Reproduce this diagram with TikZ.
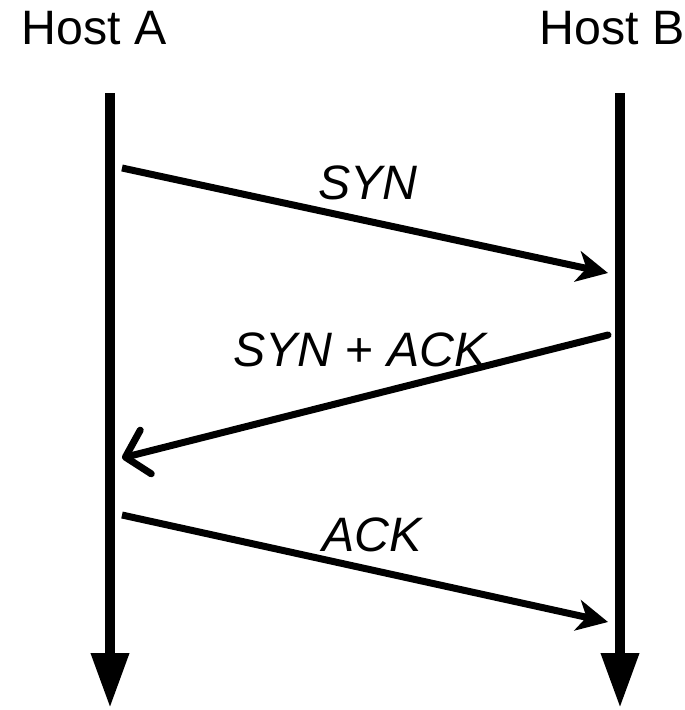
\documentclass[tikz,border=0pt]{standalone}
\usepackage{fontspec}
\setmainfont{Liberation Sans}
\usetikzlibrary{arrows.meta, positioning, calc}

\begin{document}
\begin{tikzpicture}[
    x=0.02cm, y=-0.02cm,
    host/.style={font=\fontsize{27.5}{33}\selectfont, inner sep=0pt},
    msglabel/.style={font=\fontsize{27.5}{33}\selectfont\itshape, inner sep=0pt},
    timeline/.style={line width=0.2cm, -{Triangle[length=1.1cm, width=0.72cm]}},
    msg/.style={line width=0.14cm, -{Stealth[length=0.62cm, width=0.62cm, inset=0.18cm]}},
    msgback/.style={line width=0.14cm, line cap=round, -{Straight Barb[length=0.42cm, width=0.9cm, round]}},
]
    \useasboundingbox (0,0) rectangle (685,710);

    % hosts
    \node[host] (hostA) at (94,28) {Host A};
    \node[host] (hostB) at (612,28) {Host B};

    % time lines
    \coordinate (aTop) at (110,93);
    \coordinate (aBot) at (110,708);
    \coordinate (bTop) at (620,93);
    \coordinate (bBot) at (620,708);
    \draw[timeline] (aTop) -- (aBot);
    \draw[timeline] (bTop) -- (bBot);

    % messages
    \coordinate (synStart) at (122,168);
    \coordinate (synEnd) at (608,273);
    \coordinate (synackStart) at (608,335);
    \coordinate (synackEnd) at (122,458);
    \coordinate (ackStart) at (122,515);
    \coordinate (ackEnd) at (608,622);

    \draw[msg] (synStart) -- (synEnd);
    \draw[msgback] (synackStart) -- (synackEnd);
    \draw[msg] (ackStart) -- (ackEnd);

    \node[msglabel] (synLbl) at (368,183) {SYN};
    \node[msglabel] (synackLbl) at (360,350) {SYN \textup{+} ACK};
    \node[msglabel] (ackLbl) at (372,535) {ACK};
\end{tikzpicture}
\end{document}
